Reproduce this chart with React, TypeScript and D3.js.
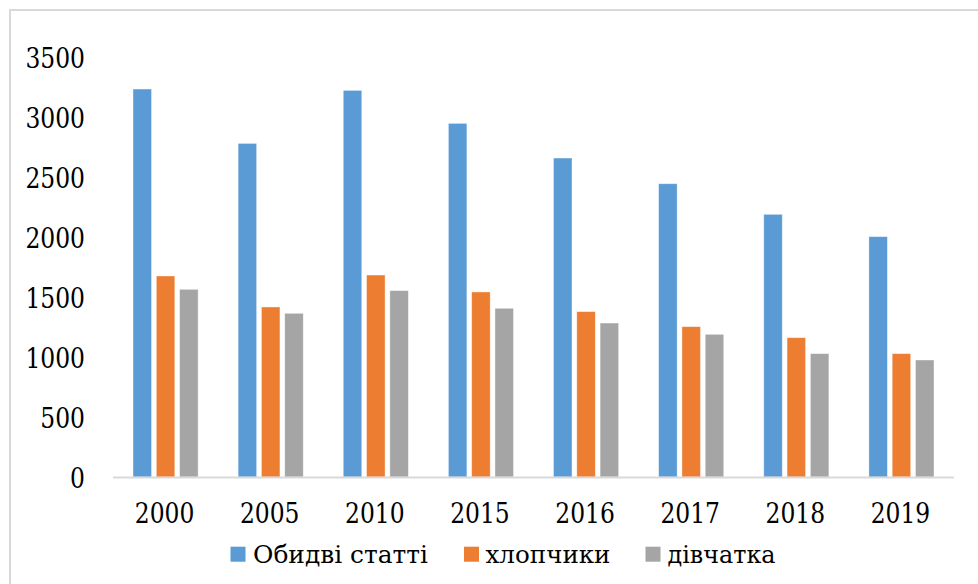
import React from "react";
import * as d3 from "d3";

const years = ["2000", "2005", "2010", "2015", "2016", "2017", "2018", "2019"];
const seriesNames = ["Обидві статті", "хлопчики", "дівчатка"];
const both = [3233, 2780, 3222, 2947, 2658, 2444, 2189, 2003];
const boys = [1675, 1417, 1683, 1542, 1378, 1253, 1161, 1028];
const girls = [1564, 1364, 1553, 1406, 1283, 1189, 1028, 975];
const yTicks = [0, 500, 1000, 1500, 2000, 2500, 3000, 3500];
const colors = ["#5B9BD5", "#ED7D31", "#A5A5A5"];
const legendTextWidths = [175, 125, 108];

const W = 978;
const H = 584;
const FONT = "DejaVu Serif";
const DIGIT_W = 14.9;

export default function App() {
  const values = [both, boys, girls];
  const x0 = d3.scaleBand<string>().domain(years).range([113, 954]).paddingInner(0).paddingOuter(0);
  const y = d3.scaleLinear().domain([0, 3500]).range([477, 57]);
  const groupW = 65.1;
  const x1 = d3
    .scaleBand<number>()
    .domain([0, 1, 2])
    .range([-groupW / 2, groupW / 2])
    .paddingInner(0.206)
    .paddingOuter(0);

  const legendItems = [
    { sx: 230.5, tx: 253 },
    { sx: 464, tx: 485.5 },
    { sx: 645.5, tx: 667.5 },
  ];

  const txt = { fontFamily: FONT };

  return (
    <svg
      width={W}
      height={H}
      style={{ position: "absolute", left: 0, top: 0, background: "#fff" }}
    >
      <rect x={0} y={0} width={W} height={H} fill="#fff" />
      <rect x={10} y={10} width={990} height={600} fill="none" stroke="#D9D9D9" strokeWidth={2} />
      {yTicks.map((t) => {
        const s = String(t);
        return (
          <text
            key={t}
            x={85}
            y={y(t) + 11}
            textAnchor="end"
            fontSize={27}
            fill="#000"
            style={txt}
            textLength={s.length * DIGIT_W}
            lengthAdjust="spacingAndGlyphs"
          >
            {s}
          </text>
        );
      })}
      {years.map((yr, i) => (
        <g key={yr} transform={`translate(${(x0(yr) as number) + x0.bandwidth() / 2},0)`}>
          {values.map((s, si) => (
            <rect
              key={si}
              x={x1(si) as number}
              y={y(s[i])}
              width={x1.bandwidth()}
              height={y(0) - y(s[i])}
              fill={colors[si]}
              stroke="#ffffff"
              strokeOpacity={0.5}
              strokeWidth={0.75}
            />
          ))}
          <text
            x={-1}
            y={522.5}
            textAnchor="middle"
            fontSize={27}
            fill="#000"
            style={txt}
            textLength={yr.length * DIGIT_W}
            lengthAdjust="spacingAndGlyphs"
          >
            {yr}
          </text>
        </g>
      ))}
      <line x1={113} x2={954} y1={477.5} y2={477.5} stroke="#D9D9D9" strokeWidth={2} />
      {seriesNames.map((n, i) => (
        <g key={n}>
          <rect x={legendItems[i].sx} y={546.7} width={15} height={15} fill={colors[i]} />
          <text
            x={legendItems[i].tx}
            y={563}
            fontSize={24}
            fill="#000"
            style={txt}
            textLength={legendTextWidths[i]}
            lengthAdjust="spacingAndGlyphs"
          >
            {n}
          </text>
        </g>
      ))}
    </svg>
  );
}
